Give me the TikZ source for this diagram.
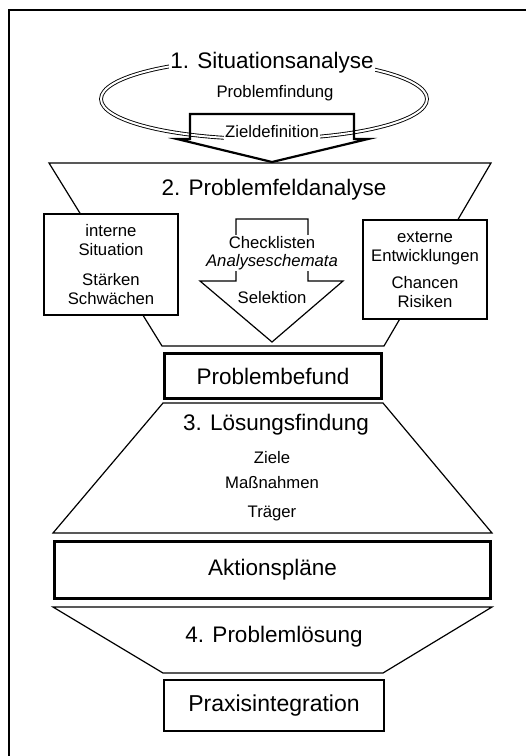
\documentclass[tikz,border=0pt]{standalone}
\usepackage{fontspec}
\setmainfont{Liberation Sans}
\usetikzlibrary{positioning}

\begin{document}
\begin{tikzpicture}[x=1pt, y=-1pt]
\tikzstyle{titel} = [font=\fontsize{22.5}{26}\selectfont, fill=white, inner sep=1pt]
\tikzstyle{stich} = [font=\fontsize{16.7}{18}\selectfont, align=center, inner sep=1pt]
\tikzstyle{feld} = [rectangle, draw=black, line width=1.1pt, fill=white, align=center, font=\fontsize{16.7}{18.5}\selectfont]
\tikzstyle{befund} = [rectangle, draw=black, line width=2.8pt, fill=white, font=\fontsize{22.5}{26}\selectfont]
\tikzstyle{linie} = [line width=1.2pt, line join=miter]

\useasboundingbox (0,0) rectangle (526,756);

% Frame
\coordinate (rahmen1) at (9,756);
\coordinate (rahmen2) at (9,10);
\coordinate (rahmen3) at (526,10);
\draw[line width=2pt] (rahmen1) -- (rahmen2) -- (rahmen3);

% 1. Situationsanalyse
\draw[double, double distance=2pt, line width=0.9pt] (264,99) ellipse [x radius=163pt, y radius=40pt];

\coordinate (z1) at (190,114);
\coordinate (z2) at (354,114);
\coordinate (z3) at (354,139);
\coordinate (z4) at (368,139);
\coordinate (z5) at (272,162);
\coordinate (z6) at (177,139);
\coordinate (z7) at (190,139);
\draw[line width=2.2pt, line join=miter] (z1) -- (z2) -- (z3) -- (z4) -- (z5) -- (z6) -- (z7) -- cycle;

\node (situation) [titel] at (272,63) {1. Situationsanalyse};
\node (findung) [stich] at (275,93) {Problemfindung};
\node (ziel) [stich, fill=white, inner ysep=3.5pt] at (272,132) {Zieldefinition};

% 2. Problemfeldanalyse
\coordinate (f2a) at (49,163);
\coordinate (f2b) at (491,163);
\coordinate (f2c) at (384,346);
\coordinate (f2d) at (162,346);
\draw[linie] (f2a) -- (f2b) -- (f2c) -- (f2d) -- cycle;

\coordinate (s1) at (236,219);
\coordinate (s2) at (308,219);
\coordinate (s3) at (308,281);
\coordinate (s4) at (343,281);
\coordinate (s5) at (272,342);
\coordinate (s6) at (200,281);
\coordinate (s7) at (236,281);
\draw[linie] (s1) -- (s2) -- (s3) -- (s4) -- (s5) -- (s6) -- (s7) -- cycle;

\node (feldanalyse) [titel] at (274,190) {2. Problemfeldanalyse};
\node (intern) [feld, minimum width=134pt, minimum height=101pt] at (111,264.5) {interne\\Situation\\[12pt]Stärken\\Schwächen};
\node (extern) [feld, minimum width=124pt, minimum height=99pt] at (425,269.5) {externe\\Entwicklungen\\[9pt]Chancen\\Risiken};
\node (check) [stich, fill=white] at (272,253) {Checklisten\\\textit{Analyseschemata}};
\node (selektion) [stich] at (272,298) {Selektion};

\node (befund) [befund, minimum width=217pt, minimum height=45pt] at (273,376) {Problembefund};

% 3. Lösungsfindung
\coordinate (f3a) at (163,403);
\coordinate (f3b) at (383,403);
\coordinate (f3c) at (492,533);
\coordinate (f3d) at (53,533);
\draw[linie] (f3a) -- (f3b) -- (f3c) -- (f3d) -- cycle;

\node (loesung) [titel] at (276,425) {3. Lösungsfindung};
\node (ziele) [stich] at (272,458) {Ziele};
\node (massnahmen) [stich] at (272,483) {Maßnahmen};
\node (traeger) [stich] at (272,513) {Träger};

\node (aktion) [befund, minimum width=436pt, minimum height=57pt] at (272.5,570) {Aktionspläne};

% 4. Problemlösung
\coordinate (f4a) at (53,607);
\coordinate (f4b) at (492,607);
\coordinate (f4c) at (383,673);
\coordinate (f4d) at (163,673);
\draw[linie] (f4a) -- (f4b) -- (f4c) -- (f4d) -- cycle;

\node (problemloesung) [titel] at (274,637) {4. Problemlösung};
\node (praxis) [befund, line width=2.2pt, font=\fontsize{23}{26}\selectfont, minimum width=220pt, minimum height=51pt] at (274,705.5) {Praxisintegration};
\end{tikzpicture}
\end{document}
